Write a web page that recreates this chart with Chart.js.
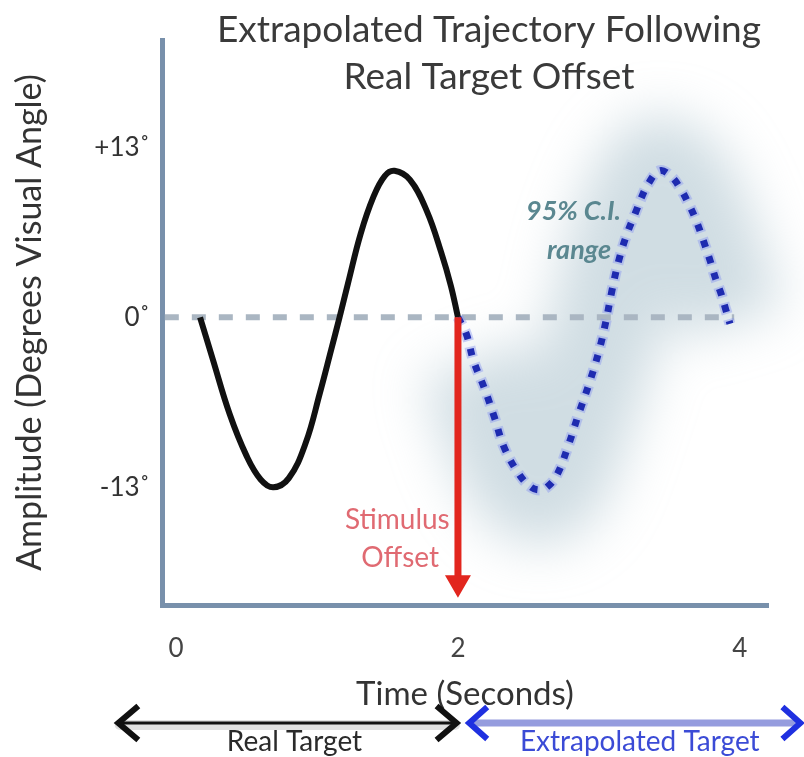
<!DOCTYPE html>
<html>
<head>
<meta charset="utf-8">
<script src="https://cdn.jsdelivr.net/npm/chart.js@4.4.0/dist/chart.umd.min.js"></script>
<style>
  html, body { margin: 0; padding: 0; background: #fff; }
  #wrap { width: 804px; height: 757px; }
</style>
</head>
<body>
<div id="wrap"><canvas id="trajChart" width="804" height="757"></canvas></div>
<script>
// Values (seconds, degrees of visual angle)
const titleLines = ['Extrapolated Trajectory Following', 'Real Target Offset'];
const xTicks = [0, 2, 4];
const yTicks = [-13, 0, 13];
const yTickLabels = ['-13˚', '0˚', '+13˚'];

const realX = [0.17, 0.26, 0.38, 0.50, 0.60, 0.69, 0.80, 0.92, 1.02, 1.10, 1.16, 1.22, 1.31, 1.40, 1.48, 1.55, 1.66, 1.78, 1.88, 1.95, 2.0];
const realY = [0, -3.2, -7.4, -10.6, -12.4, -13.0, -12.3, -9.6, -5.8, -2.5, 0, 2.6, 6.4, 9.2, 10.8, 11.2, 10.5, 8.1, 5.0, 2.4, 0];

const extrapX = [2.0, 2.06, 2.11, 2.19, 2.26, 2.33, 2.44, 2.52, 2.58, 2.63, 2.70, 2.78, 2.85, 2.93, 3.00, 3.05, 3.09, 3.14, 3.20, 3.26, 3.30, 3.35, 3.43, 3.51, 3.58, 3.64, 3.69, 3.74, 3.79, 3.83, 3.87, 3.90, 3.93];
const extrapY = [0, -1.3, -3.3, -5.5, -7.7, -10.0, -12.1, -13.0, -13.2, -13.0, -12.1, -9.9, -7.6, -5.1, -2.6, -0.3, 1.9, 4.3, 6.4, 8.0, 9.1, 10.2, 11.2, 10.8, 9.8, 8.6, 7.4, 5.9, 4.3, 2.9, 1.7, 0.6, -0.5];

const zeroX = [-0.08, 3.96];
const zeroY = [0, 0];
const offsetX = [2.0, 2.0];
const offsetY = [0, -20.3];

function pairs(xs, ys) {
  return xs.map((x, i) => ({x: x, y: ys[i]}));
}

const FONT = 'Lato, "Open Sans", "DejaVu Sans", sans-serif';

function chevron(ctx, x, y, dir, w, h) {
  ctx.beginPath();
  ctx.moveTo(x + dir * w, y - h / 2);
  ctx.lineTo(x, y);
  ctx.lineTo(x + dir * w, y + h / 2);
  ctx.stroke();
}

// draws the C.I. glow, the labels in the plot and the span arrows under the axis
const extras = {
  id: 'extras',
  beforeDatasetsDraw(chart) {
    const ctx = chart.ctx;
    const pts = chart.getDatasetMeta(2).data.slice(2);
    ctx.save();
    ctx.filter = 'blur(26px)';
    ctx.strokeStyle = 'rgba(150,180,192,0.45)';
    ctx.lineWidth = 110;
    ctx.lineJoin = 'round';
    ctx.lineCap = 'butt';
    ctx.beginPath();
    pts.forEach((p, i) => i ? ctx.lineTo(p.x, p.y) : ctx.moveTo(p.x, p.y));
    ctx.stroke();
    ctx.restore();
  },
  afterDraw(chart) {
    const ctx = chart.ctx;
    const xs = chart.scales.x, ys = chart.scales.y;
    const px = v => xs.getPixelForValue(v);
    const py = v => ys.getPixelForValue(v);

    ctx.save();
    ctx.textAlign = 'center';
    ctx.textBaseline = 'middle';

    // title
    ctx.fillStyle = '#3a3a3a';
    ctx.font = '37px ' + FONT;
    ctx.fillText(titleLines[0], 489, 30);
    ctx.fillText(titleLines[1], 489, 77);

    // stimulus offset label
    ctx.fillStyle = '#e06a72';
    ctx.font = '28px ' + FONT;
    ctx.fillText('Stimulus', px(1.57), py(-15.5));
    ctx.fillText('Offset', px(1.59), py(-18.4));

    // confidence interval label
    ctx.fillStyle = '#5a8790';
    ctx.font = 'italic bold 27px ' + FONT;
    ctx.fillText('95% C.I.', px(2.82), py(8.1));
    ctx.fillText('range', px(2.86), py(5.1));

    // span arrows under the x axis
    const ay = 723;
    ctx.lineCap = 'round';
    ctx.strokeStyle = 'rgba(0,0,0,0.12)';
    ctx.lineWidth = 10;
    ctx.beginPath(); ctx.moveTo(px(-0.4), ay + 2); ctx.lineTo(px(1.98), ay + 2); ctx.stroke();
    ctx.strokeStyle = '#111';
    ctx.lineWidth = 3;
    ctx.beginPath(); ctx.moveTo(px(-0.4), ay); ctx.lineTo(px(1.98), ay); ctx.stroke();
    ctx.lineWidth = 6;
    ctx.lineCap = 'butt';
    ctx.lineJoin = 'miter';
    chevron(ctx, px(-0.41), ay, 1, 20, 34);
    chevron(ctx, px(1.99), ay, -1, 20, 34);

    ctx.strokeStyle = '#959cde';
    ctx.lineWidth = 7;
    ctx.beginPath(); ctx.moveTo(px(2.1), ay); ctx.lineTo(px(4.4), ay); ctx.stroke();
    ctx.strokeStyle = '#1f30e0';
    ctx.lineWidth = 6;
    chevron(ctx, px(2.08), ay, 1, 18, 32);
    chevron(ctx, px(4.43), ay, -1, 18, 32);

    ctx.font = '28px ' + FONT;
    ctx.fillStyle = '#2a2a2a';
    ctx.fillText('Real Target', px(0.84), 742);
    ctx.fillStyle = '#3b4bd6';
    ctx.fillText('Extrapolated Target', px(3.29), 742);
    ctx.restore();
  }
};

const ctx = document.getElementById('trajChart').getContext('2d');
const trajChart = new Chart(ctx, {
  type: 'line',
  data: {
    datasets: [
      {
        label: 'Stimulus offset',
        data: pairs(offsetX, offsetY),
        borderColor: '#e2261e',
        backgroundColor: '#e2261e',
        borderWidth: 7,
        pointRadius: [0, 8],
        pointStyle: 'triangle',
        pointRotation: 180,
        order: 0
      },
      {
        label: 'Real target',
        data: pairs(realX, realY),
        borderColor: '#111111',
        borderWidth: 6,
        tension: 0.4,
        pointRadius: 0,
        order: 1
      },
      {
        label: 'Extrapolated target',
        data: pairs(extrapX, extrapY),
        borderColor: '#1e2bb0',
        borderWidth: 7,
        borderDash: [7, 10],
        tension: 0.4,
        pointRadius: 0,
        order: 2
      },
      {
        label: 'Extrapolated halo',
        data: pairs(extrapX, extrapY),
        borderColor: 'rgba(140,152,240,0.45)',
        borderWidth: 11,
        borderDash: [11, 6],
        borderDashOffset: 2,
        tension: 0.4,
        pointRadius: 0,
        order: 3
      },
      {
        label: 'Zero',
        data: pairs(zeroX, zeroY),
        borderColor: '#aab6c2',
        borderWidth: 6,
        borderDash: [14, 13],
        pointRadius: 0,
        order: 4
      }
    ]
  },
  options: {
    responsive: false,
    animation: false,
    layout: { padding: { top: 40, right: 36, left: 0, bottom: 0 } },
    plugins: {
      legend: { display: false },
      tooltip: { enabled: false }
    },
    scales: {
      x: {
        type: 'linear',
        min: -0.1,
        max: 4.2,
        afterFit: s => { s.height = 152; },
        afterBuildTicks: s => { s.ticks = xTicks.map(v => ({value: v})); },
        grid: { display: false, drawTicks: false },
        border: { color: '#7890ab', width: 5 },
        ticks: {
          color: '#444',
          font: { family: FONT, size: 26 },
          padding: 28,
          maxRotation: 0
        },
        title: {
          display: true,
          text: 'Time (Seconds)',
          color: '#333',
          font: { family: FONT, size: 33 },
          padding: { top: 0, bottom: 43 }
        }
      },
      y: {
        type: 'linear',
        min: -22,
        max: 21.2,
        afterFit: s => { s.width = 162; },
        afterBuildTicks: s => { s.ticks = yTicks.map(v => ({value: v})); },
        grid: { display: false, drawTicks: false },
        border: { color: '#7890ab', width: 5 },
        ticks: {
          color: '#333',
          font: { family: FONT, size: 26 },
          padding: 12,
          callback: v => yTickLabels[yTicks.indexOf(v)]
        },
        title: {
          display: true,
          text: 'Amplitude (Degrees Visual Angle)',
          color: '#333',
          font: { family: FONT, size: 34 },
          padding: { top: 10, bottom: 0 }
        }
      }
    }
  },
  plugins: [extras]
});
</script>
</body>
</html>
